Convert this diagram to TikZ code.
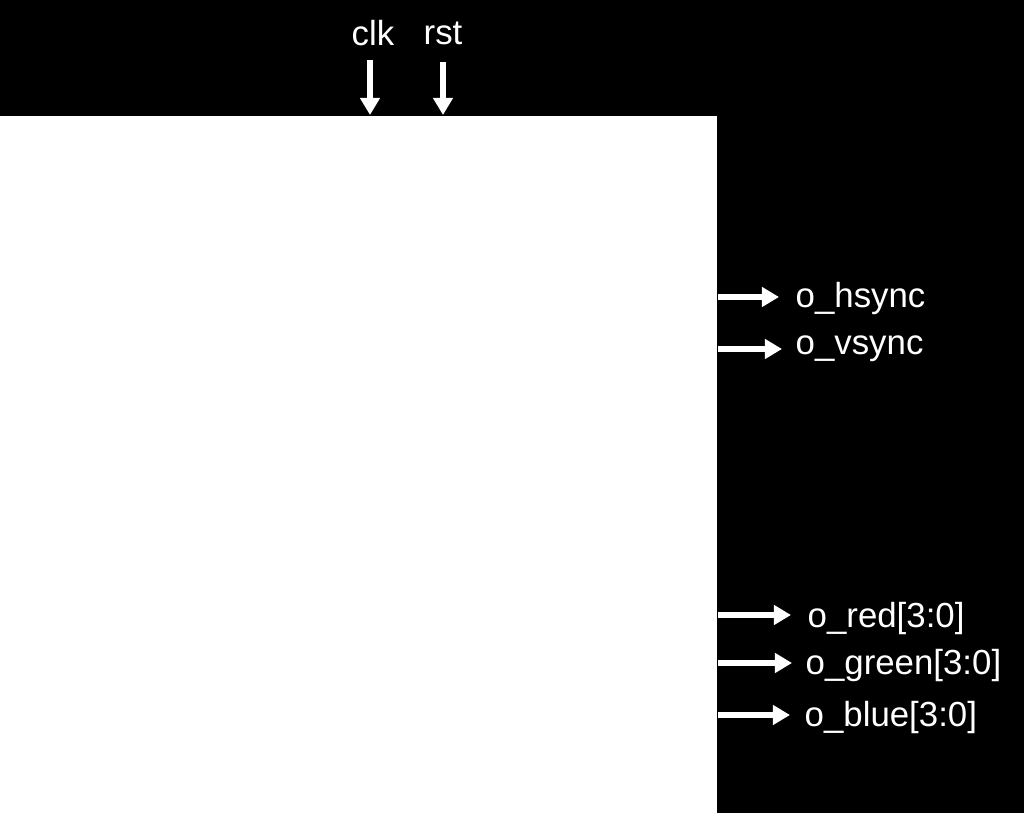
\documentclass[tikz,border=0pt]{standalone}
\usepackage{fontspec}
\setmainfont{Liberation Sans}
\usetikzlibrary{arrows.meta,positioning}

\tikzset{
  sig/.style={white, line width=1.5pt, -{Triangle[length=0.17cm,width=0.19cm]}},
  pin/.style={text=white, font=\fontsize{9.9}{12}\selectfont, inner sep=0pt}
}

\begin{document}
\begin{tikzpicture}[x=0.01cm, y=-0.01cm]
\useasboundingbox (0,0) rectangle (1024,813);
%% fond
\fill[black] (0,0) rectangle (1024,813);

%% bloc
\node[fill=white, inner sep=0pt, minimum width=7.26cm, minimum height=7.08cm, anchor=north west] (vga) at (-10,115) {};

%% entrees
\node[pin, anchor=base] (clk) at (373,46) {clk};
\node[pin, anchor=base] (rst) at (443,45) {rst};
\coordinate (clkin) at (370,60);
\coordinate (rstin) at (443,62);
\draw[sig] (clkin) -- (clkin |- vga.north);
\draw[sig] (rstin) -- (rstin |- vga.north);

%% sorties
\node[pin, anchor=mid west] (hsync) at (795,298) {o\_hsync};
\node[pin, anchor=mid west] (vsync) at (795,345) {o\_vsync};
\node[pin, anchor=mid west] (red) at (807,618) {o\_red[3:0]};
\node[pin, anchor=mid west] (green) at (805,665) {o\_green[3:0]};
\node[pin, anchor=mid west] (blue) at (804,717) {o\_blue[3:0]};

\coordinate (hsyncout) at (779,297);
\coordinate (vsyncout) at (782,349);
\coordinate (redout) at (791,615);
\coordinate (greenout) at (792,663);
\coordinate (blueout) at (790,715);

\foreach \s in {hsyncout,vsyncout,redout,greenout,blueout}
  \draw[sig] (vga.east |- \s) -- (\s);
\end{tikzpicture}
\end{document}
